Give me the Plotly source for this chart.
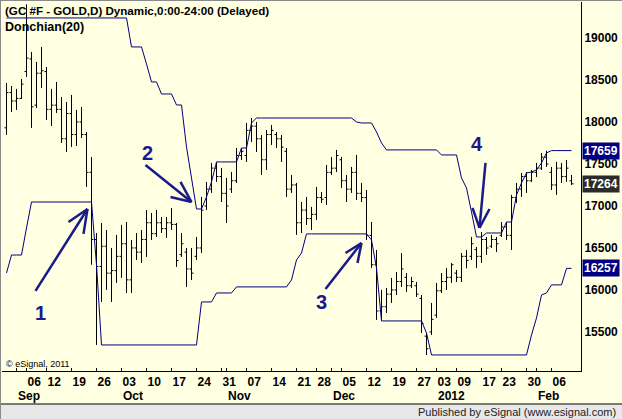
import pandas as pd
import plotly.graph_objects as go

# ---------------- data ----------------
HOLIDAYS = ["2011-09-05", "2011-11-24", "2011-12-26", "2012-01-02", "2012-01-16"]
trading_days = [d for d in pd.bdate_range("2011-08-30", "2012-02-10")
                if d.strftime("%Y-%m-%d") not in HOLIDAYS]
day_keys = [d.strftime("%Y-%m-%d") for d in trading_days]
bar_index = list(range(len(trading_days)))

high = [18464, 18428, 18393, 18512, 19400, 18833, 18714, 18893, 18655, 18393,
        18476, 18297, 18238, 18321, 18143, 18178, 17881, 17583, 16678, 16797,
        16714, 16500, 16655, 16774, 16809, 16595, 16678, 16714, 16952, 16916,
        16952, 16869, 16869, 16976, 16797, 16678, 16500, 16500, 16631, 17107,
        17286, 17512, 17524, 17452, 17333, 17404, 17690, 17690, 17988, 18047,
        18000, 17845, 17905, 17964, 17881, 17845, 17690, 17369, 17274, 17047,
        17107, 16988, 17226, 17166, 17488, 17583, 17667, 17583, 17369, 17464,
        17607, 17274, 17190, 16809, 16476, 16000, 16024, 16143, 16214, 16440,
        16202, 16155, 16095, 15940, 15488, 15845, 16083, 16202, 16262, 16321,
        16238, 16440, 16476, 16631, 16512, 16690, 16631, 16655, 16631, 16809,
        16809, 17131, 17274, 17393, 17404, 17428, 17512, 17631, 17659, 17464,
        17524, 17512, 17547, 17369]
low = [17845, 18119, 18143, 18274, 18535, 17929, 18166, 18405, 18024, 17952,
       18107, 17750, 17643, 17702, 17714, 17809, 17226, 16300, 15345, 15857,
       16000, 15857, 16083, 16143, 15964, 15964, 16357, 16321, 16393, 16595,
       16631, 16678, 16619, 16714, 16274, 16393, 16036, 16119, 16357, 16440,
       16952, 17155, 17286, 17047, 16797, 17155, 17274, 17547, 17524, 17762,
       17643, 17369, 17428, 17726, 17690, 17524, 17107, 17155, 16655, 16678,
       16774, 16714, 16833, 17035, 17012, 17369, 17404, 17214, 17047, 17155,
       17071, 17047, 16595, 16262, 15643, 15643, 15726, 15845, 15940, 16036,
       15976, 16024, 15916, 15488, 15226, 15464, 15667, 15964, 16000, 16083,
       16095, 16095, 16257, 16357, 16262, 16321, 16416, 16500, 16452, 16631,
       16595, 16476, 17035, 17107, 17155, 17286, 17345, 17428, 17464, 17190,
       17131, 17274, 17286, 17250]
open_ = [17930, 18350, 18250, 18280, 18600, 18750, 18200, 18580, 18600, 18150,
         18200, 18150, 17800, 18100, 17850, 18000, 17850, 17400, 16600, 16280,
         16520, 16200, 16230, 16400, 16550, 16120, 16500, 16450, 16600, 16800,
         16670, 16800, 16730, 16800, 16780, 16420, 16450, 16250, 16400, 16500,
         17000, 17200, 17450, 17350, 17150, 17200, 17300, 17600, 17600, 17900,
         17950, 17800, 17550, 17850, 17850, 17800, 17650, 17200, 17250, 16800,
         16950, 16850, 16900, 17100, 17100, 17400, 17450, 17550, 17300, 17200,
         17400, 17150, 17100, 16650, 16300, 15750, 15800, 15950, 16000, 16100,
         16150, 16050, 16050, 15900, 15450, 15500, 15700, 15990, 16100, 16150,
         16200, 16150, 16400, 16400, 16480, 16400, 16600, 16520, 16600, 16650,
         16750, 16650, 17100, 17200, 17350, 17300, 17400, 17450, 17580, 17400,
         17250, 17450, 17350, 17300]
close = [18350, 18250, 18280, 18450, 18760, 18180, 18580, 18610, 18150, 18200,
         18150, 17800, 18100, 17850, 18000, 17850, 17400, 16600, 16280, 16520,
         16200, 16230, 16400, 16550, 16120, 16500, 16450, 16600, 16800, 16670,
         16800, 16730, 16800, 16780, 16350, 16550, 16250, 16200, 16500, 16950,
         17200, 17450, 17350, 17150, 17000, 17300, 17600, 17650, 17900, 17950,
         17800, 17550, 17850, 17900, 17800, 17700, 17200, 17250, 16800, 16950,
         16850, 16900, 17100, 17080, 17400, 17450, 17600, 17300, 17200, 17400,
         17150, 17100, 16650, 16300, 15750, 15800, 15950, 16000, 16100, 16250,
         16050, 16100, 15950, 15600, 15300, 15650, 15990, 16100, 16150, 16300,
         16150, 16400, 16350, 16550, 16400, 16600, 16500, 16600, 16550, 16750,
         16650, 17100, 17200, 17350, 17300, 17400, 17450, 17580, 17500, 17250,
         17450, 17350, 17450, 17264]
donchian_upper = [19238, 19238, 19238, 19238, 19238, 19238, 19238, 19238, 19238, 19238,
                  19238, 19238, 19238, 19238, 19238, 19238, 19238, 19238, 19238, 19238,
                  19238, 19238, 19238, 19238, 19238, 18893, 18893, 18893, 18690, 18476,
                  18476, 18333, 18333, 18333, 18202, 18202, 17702, 17345, 16964, 16964,
                  17107, 17286, 17524, 17524, 17524, 17524, 17524, 17690, 17690, 17988,
                  18047, 18047, 18047, 18047, 18047, 18047, 18047, 18047, 18047, 18047,
                  18047, 18047, 18047, 18047, 18047, 18047, 18047, 18047, 18047, 18047,
                  18000, 17988, 17988, 17988, 17881, 17750, 17667, 17667, 17667, 17667,
                  17667, 17667, 17667, 17667, 17667, 17667, 17667, 17607, 17607, 17607,
                  17607, 17333, 17214, 16928, 16631, 16631, 16678, 16678, 16678, 16678,
                  16809, 16809, 17131, 17274, 17393, 17404, 17428, 17512, 17631, 17659,
                  17659, 17659, 17659, 17659]
donchian_lower = [16202, 16416, 16416, 16416, 16738, 17047, 17047, 17047, 17047, 17047,
                  17047, 17047, 17047, 17047, 17047, 17047, 17047, 17047, 16298, 15345,
                  15345, 15345, 15345, 15345, 15345, 15345, 15345, 15345, 15345, 15345,
                  15345, 15345, 15345, 15345, 15345, 15345, 15345, 15345, 15345, 15857,
                  15857, 15857, 15964, 15964, 15964, 15964, 16036, 16036, 16036, 16036,
                  16036, 16036, 16036, 16036, 16036, 16036, 16036, 16119, 16357, 16440,
                  16667, 16667, 16667, 16667, 16667, 16667, 16667, 16667, 16667, 16667,
                  16667, 16667, 16667, 16595, 16262, 15631, 15631, 15631, 15631, 15631,
                  15631, 15631, 15631, 15631, 15488, 15226, 15226, 15226, 15226, 15226,
                  15226, 15226, 15226, 15226, 15226, 15226, 15226, 15226, 15226, 15226,
                  15226, 15226, 15226, 15226, 15226, 15464, 15667, 15940, 15964, 16060,
                  16060, 16060, 16257, 16257]

week_tick_dates = ["2011-09-06", "2011-09-12", "2011-09-19", "2011-09-26", "2011-10-03",
                   "2011-10-10", "2011-10-17", "2011-10-24", "2011-10-31", "2011-11-07",
                   "2011-11-14", "2011-11-21", "2011-11-28", "2011-12-05", "2011-12-12",
                   "2011-12-19", "2011-12-27", "2012-01-03", "2012-01-09", "2012-01-17",
                   "2012-01-23", "2012-01-30", "2012-02-06"]
week_tick_labels = ["06", "12", "19", "26", "03", "10", "17", "24", "31", "07", "14", "21",
                    "28", "05", "12", "19", "27", "03", "09", "17", "23", "30", "06"]
month_tick_dates = ["2011-09-01", "2011-10-03", "2011-11-01", "2011-12-01", "2012-01-03", "2012-02-01"]
month_tick_labels = ["Sep", "Oct", "Nov", "Dec", "2012", "Feb"]
price_ticks = [15500, 16000, 16500, 17000, 17500, 18000, 18500, 19000]

# price tags on the right axis: (value, background)
price_tags = [(donchian_upper[-1], "#000080"), (close[-1], "#2b2b2b"), (donchian_lower[-1], "#000080")]

# annotation arrows (bar index, price): tail, tip, barbs, label position, label
arrows = [
    dict(tail=(5.8, 15988), tip=(16.2, 16964), barbs=[(12.4, 16809), (15.4, 16667)], label=(6.8, 15726), text="1"),
    dict(tail=(27.8, 17488), tip=(37.0, 17047), barbs=[(34.8, 17286), (32.8, 17107)], label=(28.2, 17631), text="2"),
    dict(tail=(63.8, 16012), tip=(71.0, 16559), barbs=[(67.8, 16440), (70.2, 16321)], label=(63.0, 15857), text="3"),
    dict(tail=(95.8, 17512), tip=(94.6, 16738), barbs=[(93.2, 16976), (96.6, 16964)], label=(94.0, 17738), text="4"),
]

# ---------------- geometry / style ----------------
W, H = 622, 419
ML, MR, MT, MB = 2, 41, 2, 48
PW, PH = W - ML - MR, H - MT - MB
BG = "#FFFFE1"
NAVY = "#000080"
ARROW = "#1a1a8a"
FONT = "Arial, Liberation Sans, sans-serif"


def px_x(px):
    return (px - ML) / PW


def px_y(py):
    return (H - MB - py) / PH


pos = {k: i for i, k in enumerate(day_keys)}
week_idx = [pos[d] for d in week_tick_dates]
month_idx = [pos[d] for d in month_tick_dates]
tickvals = list(week_idx)
ticktext = list(week_tick_labels)
for m in month_idx:
    if m not in tickvals:
        tickvals.append(m)
        ticktext.append("")

fig = go.Figure()
fig.add_trace(go.Ohlc(
    x=bar_index, open=open_, high=high, low=low, close=close,
    increasing=dict(line=dict(color="#000000", width=1)),
    decreasing=dict(line=dict(color="#000000", width=1)),
    tickwidth=0.4, hoverinfo="skip", showlegend=False))
fig.add_trace(go.Scatter(x=bar_index, y=donchian_upper, mode="lines",
                         line=dict(color=NAVY, width=1), hoverinfo="skip", showlegend=False))
fig.add_trace(go.Scatter(x=bar_index, y=donchian_lower, mode="lines",
                         line=dict(color=NAVY, width=1), hoverinfo="skip", showlegend=False))

shapes = []
for a in arrows:
    segs = [(a["tail"], a["tip"])] + [(b, a["tip"]) for b in a["barbs"]]
    for (x0, y0), (x1, y1) in segs:
        shapes.append(dict(type="line", xref="x", yref="y", x0=x0, y0=y0, x1=x1, y1=y1,
                           line=dict(color=ARROW, width=2.5)))
# bottom "published" strip
shapes.append(dict(type="rect", xref="paper", yref="paper", x0=px_x(0), x1=px_x(W),
                   y0=px_y(H), y1=px_y(404), fillcolor="#E8E8E8", line=dict(width=0), layer="above"))
shapes.append(dict(type="line", xref="paper", yref="paper", x0=px_x(0), x1=px_x(W),
                   y0=px_y(404), y1=px_y(404), line=dict(color="#505050", width=1.5)))
# outer frame (top / left)
shapes.append(dict(type="line", xref="paper", yref="paper", x0=px_x(0), x1=px_x(W),
                   y0=px_y(0.5), y1=px_y(0.5), line=dict(color="#8a8a8a", width=1)))
shapes.append(dict(type="line", xref="paper", yref="paper", x0=px_x(0.5), x1=px_x(0.5),
                   y0=px_y(0), y1=px_y(H), line=dict(color="#8a8a8a", width=1)))

annotations = []
for a in arrows:
    annotations.append(dict(x=a["label"][0], y=a["label"][1], xref="x", yref="y",
                            text="<b>" + a["text"] + "</b>", showarrow=False,
                            font=dict(family=FONT, size=20, color=ARROW)))
annotations.append(dict(x=px_x(3), y=px_y(10), xref="paper", yref="paper", xanchor="left",
                        yanchor="middle", showarrow=False,
                        text="<b>(GC #F - GOLD,D) Dynamic,0:00-24:00 (Delayed)</b>",
                        font=dict(family=FONT, size=11.6, color="black")))
annotations.append(dict(x=px_x(3), y=px_y(27), xref="paper", yref="paper", xanchor="left",
                        yanchor="middle", showarrow=False, text="<b>Donchian(20)</b>",
                        font=dict(family=FONT, size=12.5, color="black")))
annotations.append(dict(x=px_x(4), y=px_y(364), xref="paper", yref="paper", xanchor="left",
                        yanchor="middle", showarrow=False, text="© eSignal, 2011",
                        font=dict(family=FONT, size=9, color="black")))
annotations.append(dict(x=px_x(618), y=px_y(412), xref="paper", yref="paper", xanchor="right",
                        yanchor="middle", showarrow=False,
                        text="Published by eSignal (www.esignal.com)",
                        font=dict(family=FONT, size=11, color="#222222")))
for m, lab in zip(month_idx, month_tick_labels):
    annotations.append(dict(x=m, y=px_y(396), xref="x", yref="paper", xanchor="left",
                            xshift=-1, yanchor="middle", showarrow=False, text="<b>" + lab + "</b>",
                            font=dict(family=FONT, size=12, color="black")))
for val, bg in price_tags:
    annotations.append(dict(x=1, y=val, xref="paper", yref="y", xanchor="left", xshift=1,
                            yanchor="middle", showarrow=False, text="<b>%d</b>" % val,
                            bgcolor=bg, borderpad=1,
                            font=dict(family=FONT, size=12, color="white")))

fig.update_layout(
    width=W, height=H, margin=dict(l=ML, r=MR, t=MT, b=MB, pad=0),
    paper_bgcolor=BG, plot_bgcolor=BG, showlegend=False,
    xaxis=dict(range=[-0.9, 114.9], tickmode="array", tickvals=tickvals, ticktext=ticktext,
               tickangle=0, ticks="inside", ticklen=3, tickcolor="black", showline=True,
               linecolor="black", linewidth=1, showgrid=False, zeroline=False,
               rangeslider=dict(visible=False), ticklabelposition="outside right",
               tickfont=dict(family=FONT, size=12, color="black", weight="bold")),
    yaxis=dict(side="right", range=[15035, 19428], tickmode="array", tickvals=price_ticks,
               ticktext=[str(v) for v in price_ticks], ticks="", showline=True,
               linecolor="black", linewidth=1, showgrid=False, zeroline=False,
               tickfont=dict(family=FONT, size=12, color="black", weight="bold")),
    shapes=shapes, annotations=annotations,
)

fig.write_html("out.html")
